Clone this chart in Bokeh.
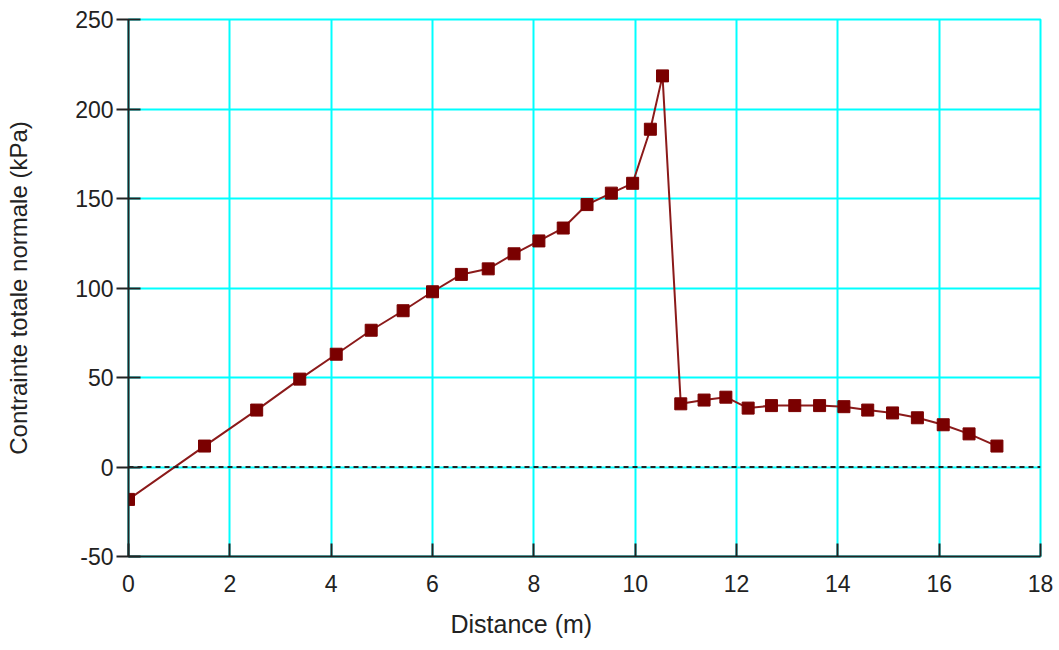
from bokeh.plotting import figure
from bokeh.models import FixedTicker, Range1d, Span, Title, PrintfTickFormatter
from bokeh.embed import file_html
from bokeh.resources import INLINE

# Data
distance = [0.00, 1.50, 2.53, 3.38, 4.10, 4.79, 5.42, 6.00, 6.57, 7.10, 7.61,
            8.10, 8.58, 9.05, 9.53, 9.95, 10.30, 10.54, 10.90, 11.36, 11.79,
            12.23, 12.69, 13.15, 13.64, 14.12, 14.59, 15.08, 15.57, 16.08,
            16.59, 17.14]
stress = [-18.1, 11.7, 31.8, 49.1, 63.0, 76.4, 87.3, 97.9, 107.6, 110.7, 119.1,
          126.3, 133.5, 146.6, 153.0, 158.5, 188.7, 218.5, 35.3, 37.4, 39.0,
          32.9, 34.3, 34.3, 34.3, 33.7, 31.8, 30.2, 27.5, 23.6, 18.5, 11.7]
x_ticks = [0, 2, 4, 6, 8, 10, 12, 14, 16, 18]
y_ticks = [-50, 0, 50, 100, 150, 200, 250]
x_label = "Distance (m)"
y_label = "Contrainte totale normale (kPa)"

FONT = "Liberation Sans"

p = figure(width=1059, height=650, output_backend="svg", toolbar_location=None,
           x_range=Range1d(0, 18), y_range=Range1d(-50, 250),
           min_border_left=128, min_border_right=19, min_border_top=19,
           min_border_bottom=93)
p.outline_line_color = "#00FFFF"
p.outline_line_width = 2
p.background_fill_color = "white"
p.border_fill_color = "white"

# grid
for g in (p.xgrid, p.ygrid):
    g.grid_line_color = "#00FFFF"
    g.grid_line_width = 2
p.xgrid.ticker = FixedTicker(ticks=x_ticks)
p.ygrid.ticker = FixedTicker(ticks=y_ticks)

# axes
p.xaxis.ticker = FixedTicker(ticks=x_ticks)
p.yaxis.ticker = FixedTicker(ticks=y_ticks)
for ax in (p.xaxis[0], p.yaxis[0]):
    ax.formatter = PrintfTickFormatter(format="%d")
    ax.axis_line_color = "#222222"
    ax.axis_line_width = 2
    ax.major_tick_line_color = "#222222"
    ax.major_tick_line_width = 2
    ax.minor_tick_line_color = None
    ax.major_label_text_font = FONT
    ax.major_label_text_font_size = "23px"
    ax.major_label_text_color = "#222222"
p.xaxis.major_tick_in = 13
p.xaxis.major_tick_out = 0
p.xaxis.major_label_standoff = 18
p.yaxis.major_tick_in = 12
p.yaxis.major_tick_out = 12
p.yaxis.major_label_standoff = 3

p.yaxis.axis_label = y_label
p.yaxis.axis_label_text_font = FONT
p.yaxis.axis_label_text_font_size = "24px"
p.yaxis.axis_label_text_font_style = "normal"
p.yaxis.axis_label_text_color = "#222222"
p.yaxis.axis_label_standoff = 40

# zero line
p.add_layout(Span(location=0, dimension="width", line_color="#222222",
                  line_width=2, line_dash="5 4"))

# series
p.line(distance, stress, line_color="#8B1A1A", line_width=2)
p.scatter(distance, stress, marker="square", size=12,
          fill_color="#7A0000", line_color="#7A0000")

# x title placed like the reference (centred on the page, not the frame)
p.add_layout(Title(text=x_label, align="left", offset=322, standoff=26,
                   vertical_align="bottom",
                   text_font=FONT, text_font_size="25px",
                   text_font_style="normal", text_color="#222222"), "below")

open("out.html", "w").write(file_html(p, INLINE))
